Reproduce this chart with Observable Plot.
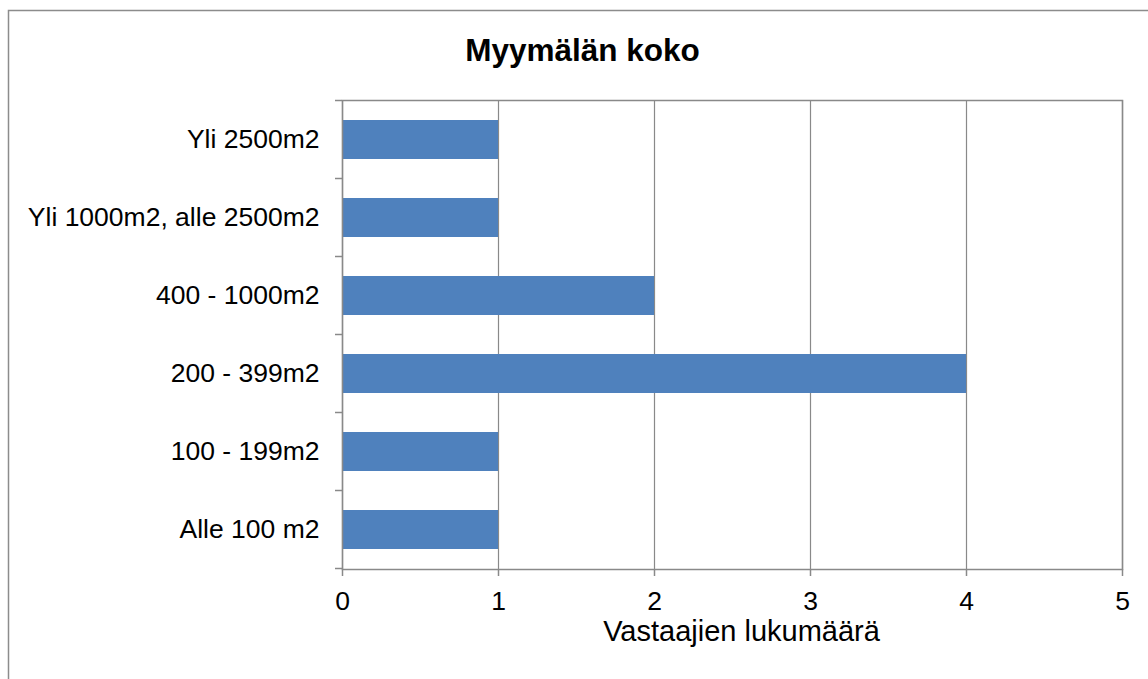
<!DOCTYPE html>
<html>
<head>
<meta charset="utf-8">
<script src="https://cdn.jsdelivr.net/npm/d3@7"></script>
<script src="https://cdn.jsdelivr.net/npm/@observablehq/plot@0.6"></script>
<style>
  html, body { margin: 0; padding: 0; background: #fff; overflow: hidden; }
  #chart { width: 1148px; height: 679px; overflow: hidden; }
</style>
</head>
<body>
<div id="chart"></div>
<script>
const title = "Myymälän koko";
const xLabel = "Vastaajien lukumäärä";
const categories = ["Alle 100 m2", "100 - 199m2", "200 - 399m2", "400 - 1000m2", "Yli 1000m2, alle 2500m2", "Yli 2500m2"];
const counts = [1, 1, 4, 2, 1, 1];
const xTicks = [0, 1, 2, 3, 4, 5];

const data = categories.map((c, i) => ({category: c, count: counts[i]}));
const yDomain = categories.slice().reverse();
const grey = "#898989";
const font = "'Liberation Sans', Arial, sans-serif";

// boundary ticks between categories (Excel style)
function boundaryTicks(index, scales, values, dims) {
  const g = d3.create("svg:g");
  const y = scales.y;
  const step = y.step();
  const x0 = dims.marginLeft;
  const ys = [y(yDomain[0]) - (step - y.bandwidth()) / 2];
  for (const c of yDomain) ys.push(y(c) + y.bandwidth() + (step - y.bandwidth()) / 2);
  for (const yy of ys) {
    g.append("line").attr("x1", x0 - 7).attr("x2", x0).attr("y1", yy).attr("y2", yy)
      .attr("stroke", grey).attr("stroke-width", 1.5);
  }
  return g.node();
}

// outer chart-area border (left and top edges visible in the picture)
function outerBorder(index, scales, values, dims) {
  const g = d3.create("svg:g").attr("fill", "none").attr("stroke", "#8c8c8c").attr("stroke-width", 1.5);
  g.append("path").attr("d", `M8.5,${dims.height}V10.5H${dims.width}`);
  return g.node();
}

const chart = Plot.plot({
  width: 1148,
  height: 679,
  marginLeft: 342,
  marginRight: 26,
  marginTop: 100,
  marginBottom: 110,
  style: {fontFamily: font, color: "#000", background: "transparent"},
  x: {domain: [0, 5], ticks: xTicks, label: null},
  y: {domain: yDomain, paddingInner: 0.5, paddingOuter: 0.25, label: null},
  marks: [
    outerBorder,
    Plot.gridX(xTicks, {stroke: grey, strokeOpacity: 1, strokeWidth: 1.2}),
    Plot.barX(data, {y: "category", x: "count", fill: "#4F81BD"}),
    Plot.frame({stroke: grey, strokeWidth: 1.5}),
    Plot.axisX(xTicks, {tickSize: 7, tickPadding: 15, stroke: grey, strokeWidth: 1.5, fontSize: 26.5, fill: "#000", label: null, tickFormat: d3.format("d")}),
    Plot.axisY({tickSize: 0, tickPadding: 23, fontSize: 26.5, fill: "#000", label: null}),
    boundaryTicks,
    Plot.text([xLabel], {frameAnchor: "bottom", lineAnchor: "middle", dx: 9, dy: 62, fontSize: 29, fill: "#000"}),
    Plot.text([title], {frameAnchor: "top", lineAnchor: "middle", dx: -150, dy: -50, fontSize: 31.5, fontWeight: "bold", fill: "#000"})
  ]
});
document.getElementById("chart").appendChild(chart);
</script>
</body>
</html>
